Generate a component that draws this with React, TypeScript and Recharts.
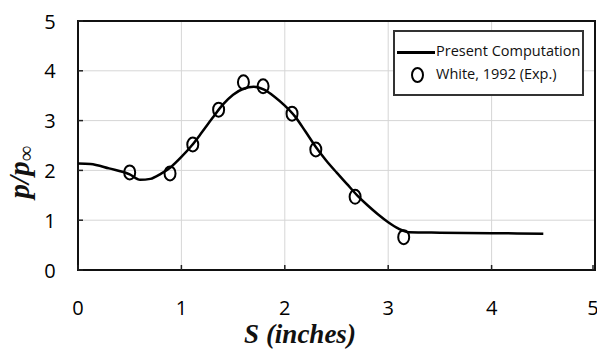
import { ComposedChart, Line, Scatter, XAxis, YAxis, CartesianGrid, ReferenceArea } from 'recharts';

// Present Computation (curve)
const curveS = [0, 0.12, 0.3, 0.5, 0.6, 0.7, 0.8, 0.9, 1.0, 1.1, 1.2, 1.3, 1.4, 1.5, 1.6, 1.7, 1.8, 1.9, 2.0, 2.1, 2.2, 2.3, 2.4, 2.5, 2.6, 2.7, 2.8, 2.9, 3.0, 3.1, 3.2, 3.5, 4.0, 4.5];
const curveP = [2.14, 2.13, 2.04, 1.92, 1.81, 1.83, 1.93, 2.07, 2.27, 2.5, 2.77, 3.05, 3.32, 3.52, 3.64, 3.68, 3.62, 3.48, 3.3, 3.08, 2.78, 2.47, 2.2, 1.96, 1.73, 1.5, 1.3, 1.12, 0.96, 0.83, 0.76, 0.75, 0.74, 0.73];

// White, 1992 (Exp.)
const expS = [0.5, 0.89, 1.11, 1.36, 1.6, 1.79, 2.07, 2.3, 2.68, 3.15];
const expP = [1.96, 1.94, 2.52, 3.22, 3.77, 3.69, 3.14, 2.42, 1.47, 0.66];

const xTicks = [0, 1, 2, 3, 4, 5];
const yTicks = [0, 1, 2, 3, 4, 5];

const curve = curveS.map((s, i) => ({ s, p: curveP[i] }));
const exp = expS.map((s, i) => ({ s, p: expP[i] }));

const tickFont = { fontFamily: 'Open Sans', fontSize: 20, fontWeight: 500, fill: '#000' };

const XTick = ({ x, y, payload }: any) => (
  <g>
    <line x1={x} x2={x} y1={y} y2={y - 5} stroke="#222" strokeWidth={1.5} />
    <text x={x} y={y + 37} textAnchor="middle" dominantBaseline="central" {...tickFont}>
      {payload.value}
    </text>
  </g>
);

const YTick = ({ x, y, payload }: any) => (
  <g>
    <line x1={x} x2={x + 5} y1={y} y2={y} stroke="#222" strokeWidth={1.5} />
    <text x={x - 28} y={y} textAnchor="middle" dominantBaseline="central" {...tickFont}>
      {payload.value}
    </text>
  </g>
);

const Ring = ({ cx, cy }: any) => (
  <ellipse cx={cx} cy={cy} rx={5.5} ry={7} fill="none" stroke="#000" strokeWidth={2} />
);

export default function App() {
  return (
    <div style={{ position: 'absolute', left: 0, top: 0, width: 597, height: 351, background: '#fff' }}>
      <ComposedChart width={597} height={351} margin={{ top: 21, right: 2, bottom: 0, left: 0 }}>
        <CartesianGrid stroke="#d6d6d6" strokeWidth={1} />
        <XAxis
          type="number"
          dataKey="s"
          domain={[0, 5]}
          ticks={xTicks}
          height={81}
          axisLine={false}
          tickLine={false}
          tickSize={0}
          tickMargin={0}
          tick={<XTick />}
          allowDataOverflow
        />
        <YAxis
          type="number"
          dataKey="p"
          domain={[0, 5]}
          ticks={yTicks}
          width={78}
          axisLine={false}
          tickLine={false}
          tickSize={0}
          tickMargin={0}
          tick={<YTick />}
          allowDataOverflow
        />
        <ReferenceArea x1={0} x2={5} y1={0} y2={5} fill="none" stroke="#111" strokeWidth={2} fillOpacity={0} />
        <Line
          data={curve}
          dataKey="p"
          type="monotone"
          stroke="#000"
          strokeWidth={2.5}
          dot={false}
          isAnimationActive={false}
        />
        <Scatter data={exp} dataKey="p" shape={<Ring />} isAnimationActive={false} />
      </ComposedChart>

      {/* axis titles */}
      <svg width={597} height={351} style={{ position: 'absolute', left: 0, top: 0, pointerEvents: 'none' }}>
        <text
          transform="translate(29,172) rotate(-90)"
          textAnchor="middle"
          fontFamily="Liberation Serif"
          fontSize={29}
          fontWeight="bold"
          fontStyle="italic"
          fill="#111"
        >
          p/p<tspan fontWeight="normal" fontStyle="normal" fontSize={22} dy={4}>∞</tspan>
        </text>
        <text
          x={300}
          y={343}
          textAnchor="middle"
          fontFamily="Liberation Serif"
          fontSize={27}
          fontWeight="bold"
          fontStyle="italic"
          fill="#111"
        >
          S (inches)
        </text>
      </svg>

      {/* legend */}
      <div
        style={{
          position: 'absolute',
          left: 393,
          top: 30,
          width: 187,
          height: 62,
          border: '2px solid #333',
          background: '#fff',
          fontFamily: 'Open Sans',
          fontSize: 14.5,
          fontWeight: 500,
          color: '#111',
        }}
      >
        <div style={{ position: 'absolute', left: 2, top: 19, width: 38, height: 3, background: '#000' }} />
        <div style={{ position: 'absolute', left: 41, top: 9, whiteSpace: 'nowrap' }}>Present Computation</div>
        <div
          style={{
            position: 'absolute',
            left: 16,
            top: 35,
            width: 9,
            height: 12,
            border: '2.5px solid #000',
            borderRadius: '50%',
          }}
        />
        <div style={{ position: 'absolute', left: 41, top: 32, whiteSpace: 'nowrap' }}>White, 1992 (Exp.)</div>
      </div>
    </div>
  );
}
